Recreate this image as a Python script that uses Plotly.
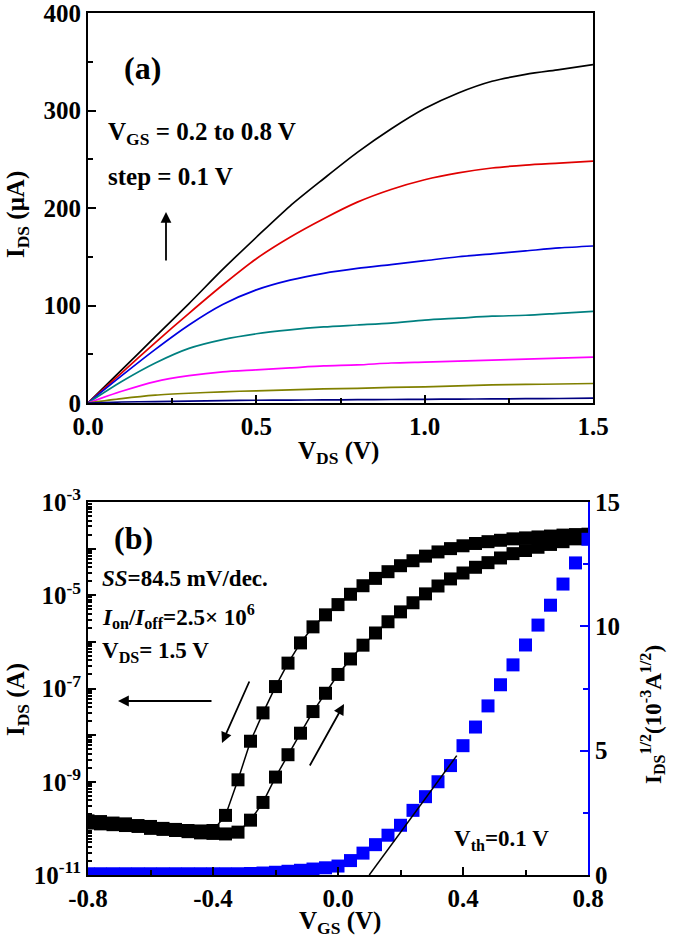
import plotly.graph_objects as go

# ---- panel (a): output curves, I_DS (uA) vs V_DS (V), V_GS = 0.8 ... 0.2 V
vds = [0.0, 0.1, 0.2, 0.3, 0.4, 0.5, 0.6, 0.7, 0.8, 0.9, 1.0, 1.1, 1.2, 1.3, 1.4, 1.5]
ids_08 = [0, 34, 68, 102, 137, 170, 202, 230, 257, 281, 302, 318, 330, 337, 342, 347]
ids_07 = [0, 31, 62, 92, 121, 148, 170, 189, 206, 219, 229, 236, 241, 244, 246, 248]
ids_06 = [0, 28, 55, 80, 101, 116, 126, 133, 138, 142, 146, 150, 153, 156, 159, 161]
ids_05 = [0, 22, 41, 56, 65, 71, 75, 78, 80, 82, 85, 87, 89, 90, 92, 94]
ids_04 = [0, 12, 22, 28, 32, 34, 36, 38, 39, 41, 42, 43, 44, 45, 46, 47]
ids_03 = [0, 4.5, 8, 10, 11.5, 12.5, 13.5, 14.5, 15, 16, 16.5, 17.5, 18.5, 19, 19.5, 20]
ids_02 = [0, 1, 1.5, 2, 2.5, 2.8, 3, 3.2, 3.4, 3.6, 3.8, 4, 4.2, 4.4, 4.6, 5]
curve_colors = ["#000000", "#e00000", "#0000e0", "#008080", "#ff00ff", "#808000", "#000080"]

# ---- panel (b): transfer curves, I_DS (A) vs V_GS (V)
vgs = [-0.80, -0.76, -0.72, -0.68, -0.64, -0.60, -0.56, -0.52, -0.48, -0.44,
       -0.40, -0.36, -0.32, -0.28, -0.24, -0.20, -0.16, -0.12, -0.08, -0.04,
       0.00, 0.04, 0.08, 0.12, 0.16, 0.20, 0.24, 0.28, 0.32, 0.36,
       0.40, 0.44, 0.48, 0.52, 0.56, 0.60, 0.64, 0.68, 0.72, 0.76, 0.80]
ids_reverse = [1.45e-10, 1.4e-10, 1.3e-10, 1.25e-10, 1.15e-10, 1.1e-10, 1.0e-10, 9.5e-11, 9.0e-11, 8.8e-11,
               9.0e-11, 1.9e-10, 1.1e-9, 7.4e-9, 3.0e-8, 1.1e-7, 3.5e-7, 9.5e-7, 2.1e-6, 3.8e-6,
               6.3e-6, 1.05e-5, 1.6e-5, 2.3e-5, 3.2e-5, 4.3e-5, 5.5e-5, 6.9e-5, 8.5e-5, 1.0e-4,
               1.15e-4, 1.29e-4, 1.41e-4, 1.51e-4, 1.62e-4, 1.70e-4, 1.78e-4, 1.86e-4, 1.95e-4, 2.0e-4, 2.04e-4]
ids_forward = [1.3e-10, 1.25e-10, 1.2e-10, 1.15e-10, 1.1e-10, 1.0e-10, 9.5e-11, 9.0e-11, 8.5e-11, 8.0e-11,
               7.8e-11, 7.6e-11, 8.3e-11, 1.5e-10, 3.6e-10, 1.26e-9, 3.8e-9, 1.1e-8, 3.2e-8, 7.9e-8,
               2.0e-7, 4.3e-7, 8.5e-7, 1.55e-6, 2.7e-6, 4.4e-6, 6.9e-6, 1.07e-5, 1.58e-5, 2.24e-5,
               3.0e-5, 3.98e-5, 5.0e-5, 6.3e-5, 7.8e-5, 9.1e-5, 1.07e-4, 1.23e-4, 1.41e-4, 1.62e-4, 1.86e-4]
sqrt_ids = [0.05, 0.05, 0.05, 0.05, 0.05, 0.05, 0.05, 0.05, 0.05, 0.05,
            0.05, 0.05, 0.05, 0.06, 0.08, 0.11, 0.15, 0.19, 0.24, 0.29,
            0.36, 0.58, 0.88, 1.22, 1.6, 2.0, 2.6, 3.15, 3.75, 4.4,
            5.2, 5.95, 6.8, 7.65, 8.45, 9.25, 10.05, 10.85, 11.7, 12.55, 13.5]
fit_vgs = [0.1, 0.38]
fit_sqrt = [0.0, 4.8]

W, H = 675, 947
FONT = "Liberation Serif"


def px(x, y):
    return x / W, 1 - y / H


def dom_x(a, b):
    return [a / W, b / W]


def dom_y(top, bottom):
    return [1 - bottom / H, 1 - top / H]


fig = go.Figure()

curves = [ids_08, ids_07, ids_06, ids_05, ids_04, ids_03, ids_02]
for ids, col in zip(curves, curve_colors):
    fig.add_trace(go.Scatter(x=vds, y=ids, mode="lines",
                             line=dict(color=col, width=1.7, shape="spline", smoothing=0.8),
                             xaxis="x", yaxis="y", showlegend=False))

sq = dict(symbol="square", size=13, color="black", line=dict(width=0))
fig.add_trace(go.Scatter(x=vgs, y=ids_reverse, mode="lines+markers", marker=sq,
                         line=dict(color="black", width=1.5), xaxis="x2", yaxis="y2", showlegend=False))
fig.add_trace(go.Scatter(x=vgs, y=ids_forward, mode="lines+markers", marker=sq,
                         line=dict(color="black", width=1.5), xaxis="x2", yaxis="y2", showlegend=False))
fig.add_trace(go.Scatter(x=vgs, y=sqrt_ids, mode="markers",
                         marker=dict(symbol="square", size=13, color="#0000ff", line=dict(width=0)),
                         xaxis="x2", yaxis="y3", showlegend=False))
fig.add_trace(go.Scatter(x=fit_vgs, y=fit_sqrt, mode="lines", line=dict(color="black", width=1.5),
                         xaxis="x2", yaxis="y3", showlegend=False))

tickfont = dict(family=FONT, size=25, color="black", weight="bold")
axis_common = dict(showline=True, linecolor="black", linewidth=2, ticks="inside", ticklen=8,
                   tickwidth=2, tickcolor="black", showgrid=False, zeroline=False, tickfont=tickfont,
                   automargin=False, ticklabeloverflow="allow")

minor_log = [m * 10.0 ** e for e in range(-11, -3) for m in range(2, 10)]
log_vals = [10.0 ** e for e in range(-11, -2)]
log_text = ["10<sup>%d</sup>" % e if e % 2 else "" for e in range(-11, -2)]

fig.update_layout(
    width=W, height=H, margin=dict(l=0, r=0, t=0, b=0),
    paper_bgcolor="white", plot_bgcolor="white",
    font=dict(family=FONT, color="black"),
    xaxis=dict(axis_common, domain=dom_x(88, 593), anchor="y", range=[0, 1.5], mirror=True,
               tickvals=[0, 0.5, 1.0, 1.5], ticktext=["0.0", "0.5", "1.0", "1.5"],
               minor=dict(ticks="inside", dtick=0.25, ticklen=5, tickwidth=2, tickcolor="black")),
    yaxis=dict(axis_common, domain=dom_y(13, 403), anchor="x", range=[0, 400], mirror=True,
               dtick=100,
               minor=dict(ticks="inside", dtick=50, ticklen=5, tickwidth=2, tickcolor="black")),
    xaxis2=dict(axis_common, domain=dom_x(88, 588), anchor="y2", range=[-0.8, 0.8], mirror=True,
                tickvals=[-0.8, -0.4, 0, 0.4, 0.8], ticktext=["-0.8", "-0.4", "0.0", "0.4", "0.8"],
                minor=dict(ticks="inside", dtick=0.2, tick0=0, ticklen=5, tickwidth=2, tickcolor="black")),
    yaxis2=dict(axis_common, domain=dom_y(502, 875), anchor="x2", type="log", range=[-11, -3],
                tickvals=log_vals, ticktext=log_text,
                minor=dict(ticks="inside", tickvals=minor_log, ticklen=4, tickwidth=1.5, tickcolor="black")),
    yaxis3=dict(axis_common, overlaying="y2", anchor="x2", side="right", range=[0, 15], dtick=5,
                linecolor="#0000ff", tickcolor="#0000ff",
                minor=dict(ticks="inside", dtick=2.5, ticklen=5, tickwidth=2, tickcolor="#0000ff")),
)

txt = dict(family=FONT, size=23, color="black", weight="bold")


def label(x, y, text, size=23, anchor="left", angle=0):
    ax, ay = px(x, y)
    fig.add_annotation(x=ax, y=ay, xref="paper", yref="paper", text=text, showarrow=False,
                       xanchor=anchor, yanchor="middle", textangle=angle,
                       font=dict(txt, size=size))


def arrow(x, y, dx, dy):
    ax, ay = px(x, y)
    fig.add_annotation(x=ax, y=ay, xref="paper", yref="paper", text="", showarrow=True,
                       ax=dx, ay=dy, arrowhead=2, arrowsize=1.2, arrowwidth=1.8, arrowcolor="black")


# panel (a) texts
label(142, 68, "(a)", size=32, anchor="center")
label(106, 133, "V<sub>GS</sub> = 0.2 to 0.8 V", size=25)
label(106, 176, "step = 0.1 V", size=25)
arrow(166, 212, 0, 50)
label(17, 215, "I<sub>DS</sub> (μA)", size=25, anchor="center", angle=-90)
label(338, 452, "V<sub>DS</sub> (V)", size=25, anchor="center")

# panel (b) texts
label(133, 538, "(b)", size=32, anchor="center")
label(100, 578, "<i>SS</i>=84.5 mV/dec.", size=23)
label(100, 616, "<i>I</i><sub>on</sub>/<i>I</i><sub>off</sub>=2.5× 10<sup>6</sup>", size=23)
label(100, 652, "V<sub>DS</sub>= 1.5 V", size=23)
label(452, 840, "V<sub>th</sub>=0.1 V", size=23)
arrow(118, 701, 95, 0)
arrow(222, 743, 28, -63)
arrow(344, 704, -35, 63)
label(17, 700, "I<sub>DS</sub> (A)", size=25, anchor="center", angle=-90)
label(340, 922, "V<sub>GS</sub> (V)", size=25, anchor="center")
label(652, 715, "I<sub>DS</sub><sup>1/2</sup>(10<sup>-3</sup>A<sup>1/2</sup>)", size=23, anchor="center", angle=-90)

# drop the browser's default body margin so the figure fills the window
fig.write_html("out.html", config={"displayModeBar": False},
               post_script="document.body.style.margin = '0';")
